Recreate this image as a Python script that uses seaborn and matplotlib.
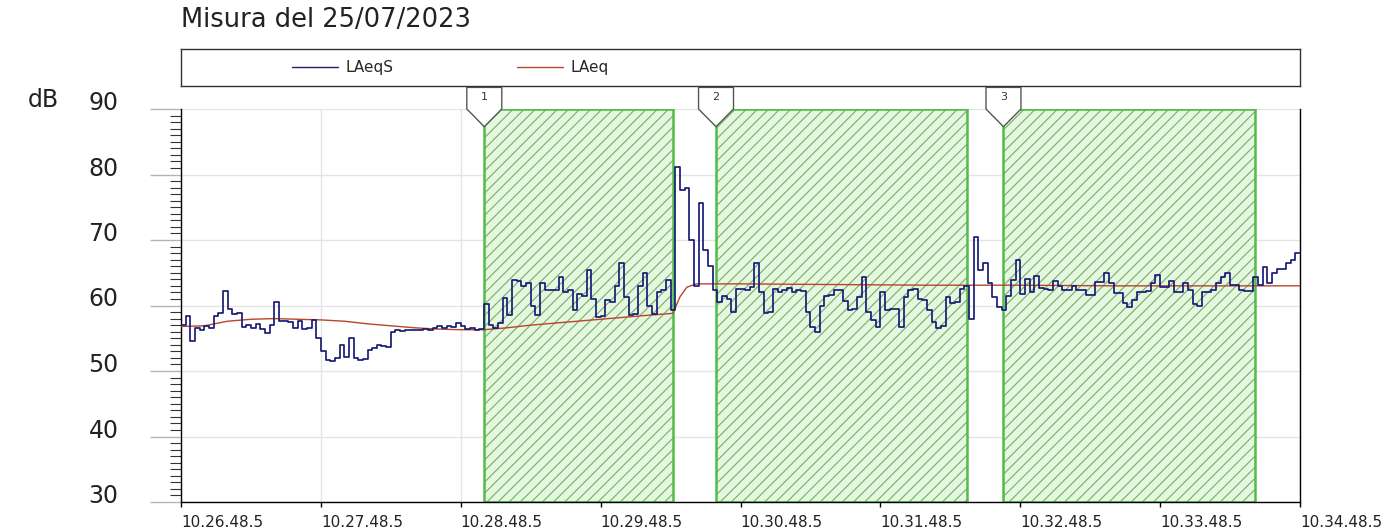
import numpy as np
import pandas as pd
import matplotlib
matplotlib.use("Agg")
import matplotlib.pyplot as plt
import matplotlib.transforms as mtransforms
from matplotlib.patches import Polygon
from matplotlib.ticker import FixedLocator, MultipleLocator
import seaborn as sns

title = "Misura del 25/07/2023"

# x axis: seconds from 10.26.48.5
tick_secs = [0, 60, 120, 180, 240, 300, 360, 420, 480]
tick_labels = ["10.26.48.5", "10.27.48.5", "10.28.48.5", "10.29.48.5", "10.30.48.5",
               "10.31.48.5", "10.32.48.5", "10.33.48.5", "10.34.48.5"]

# LAeqS, one value every 2 s
laeqs_db = [
    57.0, 58.4, 54.6, 56.5, 56.2, 56.9, 56.6, 58.4, 58.9, 62.2,
    59.5, 58.7, 58.9, 56.7, 57.0, 56.5, 57.1, 56.4, 55.8, 57.0,
    60.6, 57.6, 57.7, 57.5, 56.5, 57.6, 56.4, 56.5, 57.8, 55.0,
    53.0, 51.7, 51.6, 52.0, 54.0, 52.2, 55.0, 52.0, 51.7, 51.8,
    53.2, 53.5, 54.0, 53.8, 53.7, 56.0, 56.2, 56.1, 56.3, 56.2,
    56.3, 56.2, 56.4, 56.3, 56.6, 56.8, 56.6, 56.9, 56.7, 57.4,
    56.8, 56.4, 56.5, 56.3, 56.4, 60.3, 57.0, 56.5, 57.3, 61.2,
    58.6, 63.9, 63.8, 63.0, 63.5, 60.0, 58.6, 63.4, 62.4, 62.3,
    62.4, 64.4, 62.0, 62.3, 59.3, 61.8, 61.5, 65.4, 61.0, 58.2,
    58.4, 60.8, 60.6, 63.0, 66.5, 61.3, 58.5, 58.7, 63.0, 65.0,
    60.0, 58.7, 62.0, 62.4, 63.9, 59.3, 81.2, 77.6, 78.0, 70.0,
    63.0, 75.6, 68.5, 66.0, 62.4, 60.5, 61.5, 61.0, 59.0, 62.5,
    62.5, 62.3, 62.8, 66.5, 62.0, 58.8, 59.0, 62.5, 62.0, 62.3,
    62.6, 62.0, 62.4, 62.2, 59.0, 56.7, 56.0, 60.0, 61.4, 61.6,
    62.3, 62.4, 60.7, 59.3, 59.5, 61.3, 64.4, 59.0, 57.8, 56.7,
    62.0, 59.3, 59.4, 59.4, 56.7, 61.3, 62.4, 62.5, 61.0, 60.8,
    59.3, 57.5, 56.6, 56.8, 61.3, 60.4, 60.5, 62.5, 63.0, 58.0,
    70.5, 65.4, 66.5, 63.4, 61.3, 59.8, 59.3, 61.5, 63.9, 67.0,
    61.7, 64.0, 62.0, 64.5, 62.7, 62.5, 62.4, 63.8, 63.0, 62.3,
    62.3, 63.0, 62.3, 62.3, 61.6, 61.6, 63.6, 63.6, 65.0, 63.4,
    61.9, 61.9, 60.4, 59.8, 60.8, 62.0, 62.0, 62.2, 63.4, 64.6,
    62.8, 62.8, 63.8, 62.0, 62.0, 63.5, 62.4, 60.2, 60.0, 62.0,
    62.0, 62.3, 63.5, 64.4, 65.0, 63.2, 63.2, 62.3, 62.2, 62.2,
    64.4, 63.2, 65.9, 63.5, 65.0, 65.5, 65.5, 66.5, 67.0, 68.0, 68.0,
]
laeqs_t = np.arange(0, 481, 2)

# running LAeq
laeq_t = [0, 10, 20, 30, 40, 50, 60, 70, 80, 90, 100, 110, 120, 130, 140, 150,
          160, 170, 180, 190, 200, 211, 214, 217, 221, 240, 280, 320, 360, 400, 440, 480]
laeq_db = [56.8, 56.9, 57.6, 57.9, 58.0, 57.9, 57.8, 57.6, 57.2, 56.9, 56.6, 56.4, 56.3, 56.3, 56.6, 57.0,
           57.3, 57.6, 57.9, 58.2, 58.5, 58.8, 61.3, 62.8, 63.3, 63.3, 63.2, 63.1, 63.1, 63.0, 63.0, 63.0]

# marked intervals
zone_start = [130.1, 229.5, 352.8]
zone_end = [210.9, 337.0, 460.5]
zone_names = ["1", "2", "3"]

sns.set_style("white")
plt.rcParams["font.family"] = ["DejaVu Sans"]
plt.rcParams["hatch.linewidth"] = 0.8

W, H = 1393, 529
fig = plt.figure(figsize=(W / 100, H / 100), dpi=100)
ax = fig.add_axes([181 / W, 1 - 502 / H, 1119 / W, 393 / H])
lax = fig.add_axes([181 / W, 1 - 86 / H, 1119 / W, 37 / H])

ax.set_xlim(0, 480)
ax.set_ylim(30, 90)
ax.grid(True, which="major", color="#e4e4e4", lw=1)
ax.set_axisbelow(True)

for s, e in zip(zone_start, zone_end):
    ax.axvspan(s, e, facecolor="#e5f7df", edgecolor="#6fb066", hatch="///", lw=0, zorder=1)
    ax.axvspan(s, e, facecolor="none", edgecolor="#52bb4a", lw=1.8, zorder=2)

df = pd.DataFrame({"t": laeqs_t, "LAeqS": laeqs_db})
df2 = pd.DataFrame({"t": laeq_t, "LAeq": laeq_db})
sns.lineplot(data=df2, x="t", y="LAeq", ax=ax, color="#b8452c", lw=1.0, label="LAeq", zorder=3)
sns.lineplot(data=df, x="t", y="LAeqS", ax=ax, color="#1b1b78", lw=1.25,
             drawstyle="steps-post", label="LAeqS", zorder=4)

# flags above each interval
for s, name in zip(zone_start, zone_names):
    hw = 7.5
    verts = [(s - hw, 93.3), (s + hw, 93.3), (s + hw, 90), (s, 87.3), (s - hw, 90)]
    ax.add_patch(Polygon(verts, closed=True, facecolor="white", edgecolor="#555555",
                         lw=1, clip_on=False, zorder=6))
    ax.text(s, 91.8, name, ha="center", va="center", fontsize=8, color="#333333",
            clip_on=False, zorder=7)

ax.set_xlabel("")
ax.set_ylabel("")
ax.xaxis.set_major_locator(FixedLocator(tick_secs))
ax.set_xticklabels(tick_labels, ha="left")
ax.yaxis.set_major_locator(MultipleLocator(10))
ax.yaxis.set_minor_locator(MultipleLocator(1))
ax.tick_params(axis="x", which="major", bottom=True, direction="out", length=3.5, width=1,
               color="black", pad=6, labelsize=11, labelcolor="#222222")
ax.tick_params(axis="y", which="major", left=True, direction="out", length=22, width=1,
               color="#b5b5b5", pad=23, labelsize=17, labelcolor="#222222")
ax.tick_params(axis="y", which="minor", left=True, direction="out", length=8, width=0.8,
               color="#333333")
offset = mtransforms.ScaledTranslation(0, 8.5 / 100, fig.dpi_scale_trans)
for lbl in ax.get_yticklabels():
    lbl.set_transform(lbl.get_transform() + offset)

ax.spines["top"].set_visible(False)
for side in ["left", "bottom", "right"]:
    ax.spines[side].set_color("black")
    ax.spines[side].set_linewidth(1)

handles, labels = ax.get_legend_handles_labels()
if ax.get_legend() is not None:
    ax.get_legend().remove()
order = [labels.index("LAeqS"), labels.index("LAeq")]
handles = [handles[i] for i in order]
labels = [labels[i] for i in order]

lax.set_xticks([])
lax.set_yticks([])
for sp in lax.spines.values():
    sp.set_color("#333333")
    sp.set_linewidth(1)
leg = lax.legend(handles, labels, loc="center left", bbox_to_anchor=(0.099, 0.5), ncol=2,
                 frameon=False, fontsize=11, handlelength=3.0, handletextpad=0.5,
                 columnspacing=8.1, borderpad=0, borderaxespad=0)
for line in leg.get_lines():
    line.set_linewidth(1.0)

fig.text(181 / W, 1 - 20 / H, title, fontsize=18.5, ha="left", va="center", color="#222222")
fig.text(28 / W, 1 - 100 / H, "dB", fontsize=17, ha="left", va="center", color="#222222")

fig.savefig("out.png", dpi=100)
